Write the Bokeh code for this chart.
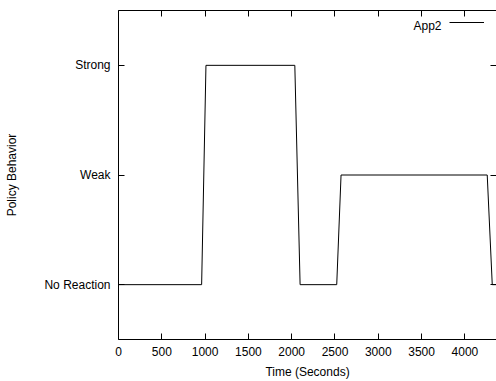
from bokeh.plotting import figure
from bokeh.models import (Range1d, FixedTicker, LinearAxis, Legend, LegendItem, Label,
                          CustomJSTickFormatter)
from bokeh.embed import file_html
from bokeh.resources import INLINE

# Data
time_s = [0, 960, 1010, 2036, 2097, 2520, 2570, 4258, 4316, 4365]
level = [0, 0, 2, 2, 0, 0, 1, 1, 0, 0]
level_names = ["No Reaction", "Weak", "Strong"]
x_ticks = [0, 500, 1000, 1500, 2000, 2500, 3000, 3500, 4000]
series_name = "App2"

FONT = "Liberation Sans"

p = figure(width=496, height=381, output_backend="svg", toolbar_location=None,
           x_range=Range1d(0, 4365), y_range=Range1d(-0.5, 2.5),
           min_border_left=118, min_border_right=0, min_border_top=10,
           min_border_bottom=41, x_axis_location=None, y_axis_location=None)
p.outline_line_color = None
p.xgrid.visible = False
p.ygrid.visible = False
p.background_fill_color = "white"
p.border_fill_color = "white"

line = p.line(time_s, level, line_color="black", line_width=1)

def style(ax, labels=True):
    ax.major_tick_in = 6
    ax.major_tick_out = 0
    ax.minor_tick_line_color = None
    ax.axis_line_color = "black"
    ax.major_tick_line_color = "black"
    ax.major_label_text_font = FONT
    ax.major_label_text_font_size = "12px"
    ax.major_label_text_color = "black"
    ax.axis_label_text_font = FONT
    ax.axis_label_text_font_size = "12px"
    ax.axis_label_text_font_style = "normal"
    ax.axis_label_text_color = "black"
    if not labels:
        ax.major_label_text_font_size = "0px"
        ax.major_label_standoff = 0

# bottom axis
xb = LinearAxis(ticker=FixedTicker(ticks=x_ticks), axis_label="Time (Seconds)")
style(xb)
xb.major_label_standoff = 7
xb.axis_label_standoff = 6
p.add_layout(xb, "below")

# top axis (mirror)
xt = LinearAxis(ticker=FixedTicker(ticks=x_ticks))
style(xt, labels=False)
xt.formatter = CustomJSTickFormatter(code="return ''")
p.add_layout(xt, "above")

# left axis
yl = LinearAxis(ticker=FixedTicker(ticks=[0, 1, 2]), axis_label="Policy Behavior")
style(yl)
yl.major_label_overrides = {i: n for i, n in enumerate(level_names)}
yl.major_label_standoff = 8
yl.axis_label_standoff = 22
p.add_layout(yl, "left")

# right axis (mirror ticks)
yr = LinearAxis(ticker=FixedTicker(ticks=[0, 1, 2]))
style(yr, labels=False)
yr.formatter = CustomJSTickFormatter(code="return ''")
yr.axis_line_color = None
p.add_layout(yr, "right")

# legend: sample line only; text placed to its left as in the reference
legend = Legend(items=[LegendItem(label=" ", renderers=[line])],
                location=(331, 311), glyph_width=35, glyph_height=12,
                label_height=12, label_standoff=0, padding=0, margin=0,
                border_line_color=None, background_fill_alpha=0,
                label_text_font_size="12px", label_text_font=FONT)
p.add_layout(legend)
p.add_layout(Label(x=323, y=307, x_units="screen", y_units="screen",
                   text=series_name, text_align="right", text_font=FONT,
                   text_font_size="12px", text_color="black"))

open("out.html", "w").write(file_html(p, INLINE))
